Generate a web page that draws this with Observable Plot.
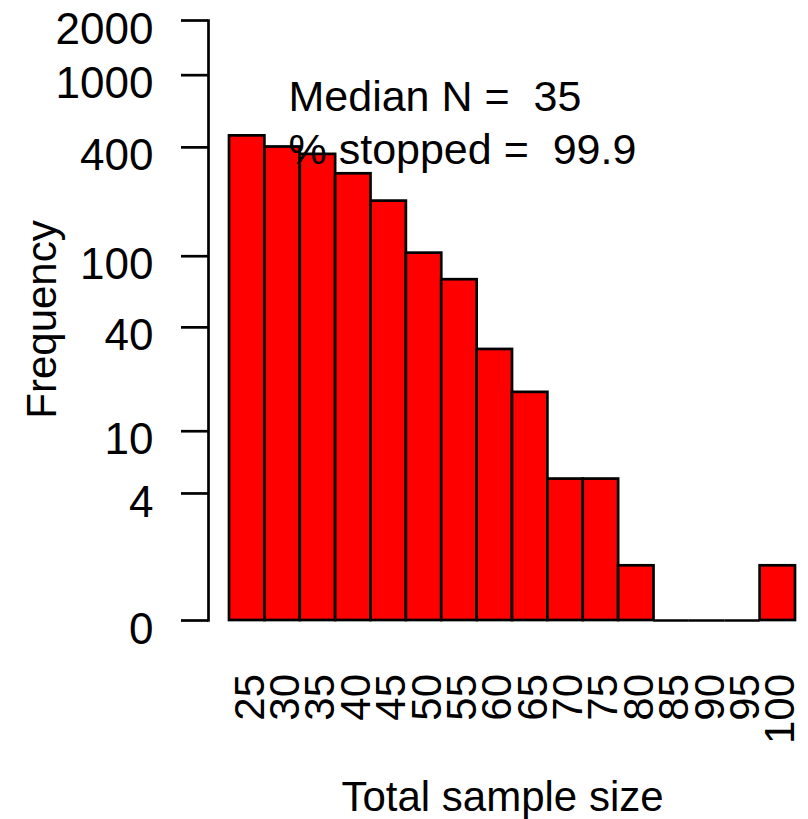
<!DOCTYPE html>
<html>
<head>
<meta charset="utf-8">
<script src="https://cdn.jsdelivr.net/npm/d3@7"></script>
<script src="https://cdn.jsdelivr.net/npm/@observablehq/plot@0.6"></script>
<style>
  html, body { margin: 0; padding: 0; background: #fff; }
  svg text { white-space: pre; }
</style>
</head>
<body>
<div id="chart"></div>
<script>
// Histogram bins (bin centres) and their frequencies
const binCenters = [25, 30, 35, 40, 45, 50, 55, 60, 65, 70, 75, 80, 85, 90, 95, 100];
const counts     = [463, 402, 366, 286, 202, 104, 74, 30, 17, 5, 5, 1, 0, 0, 0, 1];
const binWidth = 5;
const yTicks = [0, 4, 10, 40, 100, 400, 1000, 2000];
const notes = ["Median N =  35", "% stopped =  99.9"];
const xTitle = "Total sample size";
const yTitle = "Frequency";

const bins = binCenters.map((c, i) => ({x1: c - binWidth / 2, x2: c + binWidth / 2, mid: c, count: counts[i]}));
const filled = bins.filter(d => d.count > 0);
const empty = bins.filter(d => d.count === 0);

const font = "'Liberation Sans', Arial, Helvetica, sans-serif";
const fs = 42;
const sw = 2.7;

const chart = Plot.plot({
  width: 808,
  height: 819,
  marginTop: 20,
  marginBottom: 199,
  marginLeft: 229,
  marginRight: 13,
  style: {fontFamily: font, fontSize: fs + "px", background: "white", color: "black"},
  x: {type: "linear", domain: [binCenters[0] - binWidth / 2, binCenters[binCenters.length - 1] + binWidth / 2], axis: null},
  y: {type: "symlog", constant: 1, domain: [0, 2000], axis: null},
  marks: [
    Plot.rect(filled, {x1: "x1", x2: "x2", y1: 0, y2: "count", fill: "#ff0000", stroke: "black", strokeWidth: sw}),
    Plot.ruleY(empty, {x1: "x1", x2: "x2", y: 0, stroke: "black", strokeWidth: sw}),
    // y axis line + ticks
    Plot.frame({anchor: "left", dx: -21, stroke: "black", strokeWidth: sw}),
    Plot.axisY(yTicks, {tickSize: 27, dx: -21, tickFormat: () => "", strokeWidth: sw, label: null}),
    Plot.text(yTicks, {y: d => d, text: d => String(d), frameAnchor: "left", textAnchor: "end", dx: -76, dy: 9, fontSize: 44, fill: "black"}),
    // x tick labels (rotated)
    Plot.text(binCenters, {x: d => d, text: d => String(d), frameAnchor: "bottom", rotate: -90, textAnchor: "end", lineAnchor: "middle", dx: 3, dy: 53.5, fontSize: fs, fill: "black"}),
    // axis titles
    Plot.text([xTitle], {frameAnchor: "bottom", textAnchor: "middle", lineAnchor: "bottom", dy: 190, dx: -10, text: d => d, fontSize: fs, fill: "black"}),
    Plot.text([yTitle], {frameAnchor: "left", textAnchor: "middle", rotate: -90, dx: -187.4, dy: -1, text: d => d, fontSize: fs, fill: "black"}),
    // annotations
    Plot.text([notes[0]], {frameAnchor: "top-left", textAnchor: "start", lineAnchor: "bottom", dx: 59, dy: 90, text: d => d, fontSize: 43, fill: "black"}),
    Plot.text([notes[1]], {frameAnchor: "top-left", textAnchor: "start", lineAnchor: "bottom", dx: 59, dy: 143, text: d => d, fontSize: 43, fill: "black"})
  ]
});
document.getElementById("chart").appendChild(chart);
</script>
</body>
</html>
